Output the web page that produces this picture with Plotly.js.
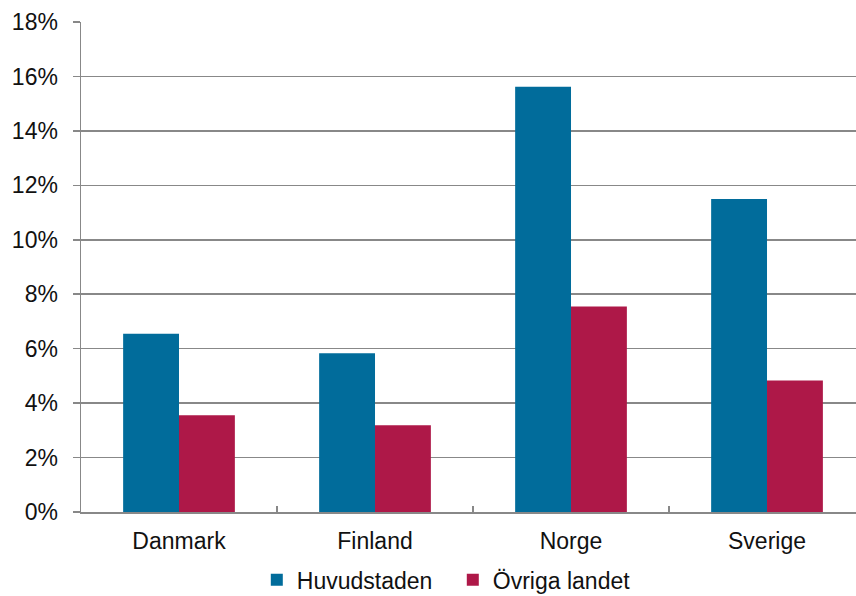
<!DOCTYPE html>
<html>
<head>
<meta charset="utf-8">
<script src="https://cdn.plot.ly/plotly-3.0.1.min.js"></script>
<style>html,body{margin:0;padding:0;background:#fff;}#chart{width:856px;height:596px;}</style>
</head>
<body>
<div id="chart"></div>
<script>
const categories = ["Danmark", "Finland", "Norge", "Sverige"];
const huvudstaden = [6.55, 5.83, 15.62, 11.5];
const ovrigaLandet = [3.55, 3.19, 7.55, 4.83];
const seriesNames = ["Huvudstaden", "Övriga landet"];
const yTickVals = [0, 2, 4, 6, 8, 10, 12, 14, 16, 18];

const font = {family: "Liberation Sans, Arial, sans-serif", size: 23, color: "#111"};

const traces = [
  {type: "bar", name: seriesNames[0], x: categories, y: huvudstaden, marker: {color: "#016C9B"}},
  {type: "bar", name: seriesNames[1], x: categories, y: ovrigaLandet, marker: {color: "#AE1848"}}
];

const layout = {
  width: 856, height: 596,
  margin: {l: 81, r: 0, t: 22, b: 84},
  paper_bgcolor: "#fff", plot_bgcolor: "#fff",
  font: font,
  barmode: "group", bargap: 0.43, bargroupgap: 0,
  showlegend: true,
  legend: {orientation: "h", xref: "container", yref: "container", x: 0.3, xanchor: "left", y: 0.027, yanchor: "middle", font: font, traceorder: "normal", entrywidth: 151},
  xaxis: {
    type: "category", range: [-0.5, 3.454], tickson: "boundaries",
    ticks: "inside", ticklen: 6, tickcolor: "#888", tickwidth: 1.5,
    showline: true, linecolor: "#888", linewidth: 1.5,
    showgrid: false, tickfont: font, fixedrange: true, ticklabelstandoff: 8
  },
  yaxis: {
    range: [0, 18], tickvals: yTickVals, ticktext: yTickVals.map(v => v + "%"),
    ticks: "outside", ticklen: 7, tickcolor: "#888", tickwidth: 1.5,
    showline: true, linecolor: "#888", linewidth: 1.5,
    showgrid: true, gridcolor: "#888", gridwidth: 1.5, zeroline: false,
    tickfont: font, ticklabelstandoff: 10
  }
};

Plotly.newPlot("chart", traces, layout, {displayModeBar: false, staticPlot: true});
</script>
</body>
</html>
